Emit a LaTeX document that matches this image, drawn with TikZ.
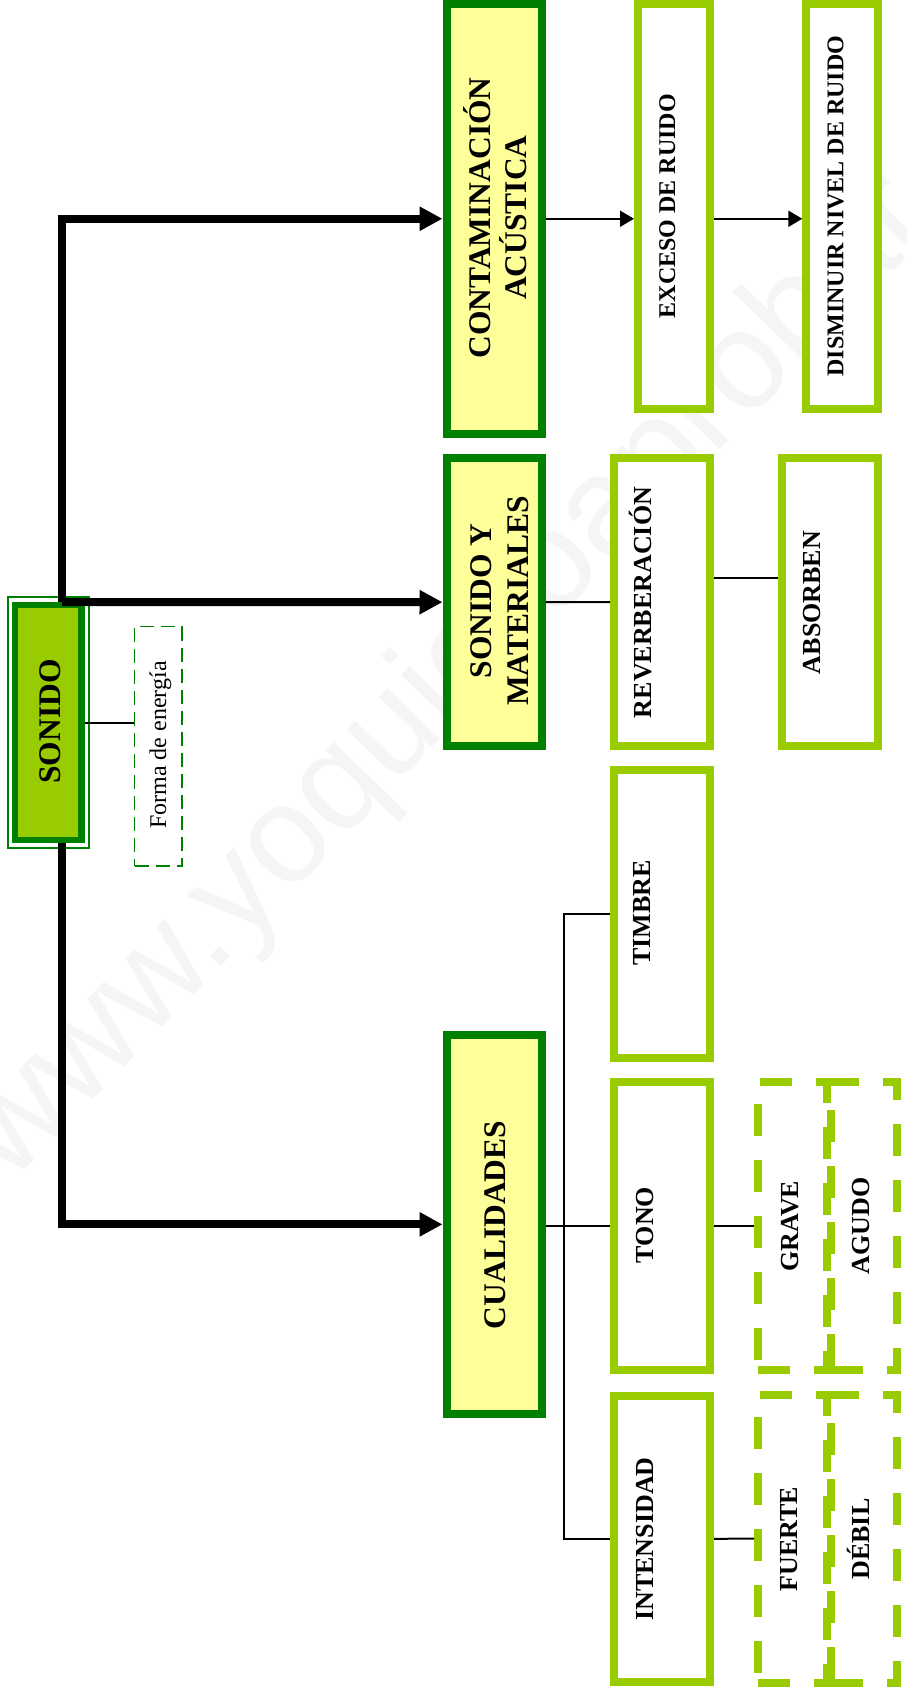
\documentclass[tikz,border=0pt]{standalone}
\usepackage{fontspec}
\setmainfont{Liberation Serif}
\newfontfamily\wmfont{Liberation Sans}
\usetikzlibrary{arrows.meta,calc}
\definecolor{dg}{HTML}{008000}
\definecolor{lg}{HTML}{99CC00}
\definecolor{yl}{HTML}{FFFF99}
\begin{document}
\begin{tikzpicture}[x=0.5pt,y=-0.5pt,
  mainbox/.style={draw=dg, line width=4pt, fill=yl, minimum width=47.5pt, inner sep=0pt},
  subbox/.style={draw=lg, line width=4pt, fill=white, inner sep=0pt},
  dbox/.style={draw=lg, line width=4pt, dash pattern=on 16pt off 12pt, inner sep=0pt, minimum height=144pt},
  big/.style={line width=4pt, line join=miter, -{Triangle[length=11.5pt,width=11.5pt]}},
  bigl/.style={line width=4pt, line join=miter},
  thinl/.style={line width=1pt},
  thinarr/.style={line width=1pt, -{Triangle[length=7pt,width=8pt]}},
  bigtxt/.style={rotate=90, anchor=base, font=\fontsize{15.75}{18}\selectfont\bfseries, inner sep=0pt},
  medtxt/.style={rotate=90, anchor=base, font=\fontsize{13}{15}\selectfont\bfseries, inner sep=0pt},
  smtxt/.style={rotate=90, anchor=base, font=\fontsize{12}{14}\selectfont\bfseries, inner sep=0pt},
]
\useasboundingbox (0,0) rectangle (906,1694);
\fill[white] (0,0) rectangle (906,1694);
% watermark
\node[rotate=46, anchor=base west, font=\wmfont\fontsize{69}{69}\selectfont, text=black!4, inner sep=0pt] (wm) at (10,1185) {www.yoquieroaprobar.es};

% main boxes
\node[mainbox, minimum height=214.75pt] (cont) at (494,218.75) {};
\node[mainbox, minimum height=143.85pt] (sym) at (494,602.15) {};
\node[mainbox, minimum height=189.65pt] (cual) at (494,1224.35) {};

% sub boxes
\node[subbox, minimum width=36pt, minimum height=202.5pt] (exceso) at (674,206.5) {};
\node[subbox, minimum width=36pt, minimum height=202.5pt] (dism) at (842.3,206.5) {};
\node[subbox, minimum width=48pt, minimum height=144pt] (reverb) at (662,602) {};
\node[subbox, minimum width=48pt, minimum height=144pt] (absorb) at (830,602) {};
\node[subbox, minimum width=48pt, minimum height=143.85pt] (timbre) at (662,913.85) {};
\node[subbox, minimum width=48pt, minimum height=144pt] (tono) at (662,1226) {};
\node[subbox, minimum width=48pt, minimum height=143.15pt] (intens) at (662,1538.85) {};

% dashed boxes
\node[dbox, minimum width=34.5pt] (grave) at (792.5,1226) {};
\node[dbox, minimum width=33pt] (agudo) at (864,1226) {};
\node[dbox, minimum width=34.5pt] (fuerte) at (792.5,1538.5) {};
\node[dbox, minimum width=33pt] (debil) at (864,1538.5) {};

% SONIDO
\node[draw=dg, line width=1pt, fill=white, minimum width=40.45pt, minimum height=125.3pt, inner sep=0pt] (sonout) at (48.25,722.5) {};
\node[draw=dg, line width=3.35pt, fill=lg, minimum width=33.35pt, minimum height=117.5pt, inner sep=0pt] (sonido) at (48.35,722.5) {};

% Forma de energia
\node[draw=dg, line width=0.85pt, dash pattern=on 7pt off 3.5pt, minimum width=23.75pt, minimum height=119.75pt, inner sep=0pt] (forma) at (158.25,746.25) {};

% texts
\node[bigtxt] (t-son) at (61,721.5) {SONIDO};
\node[bigtxt] (t-cont1) at (490,218) {CONTAMINACIÓN};
\node[bigtxt] (t-cont2) at (526.7,217.5) {ACÚSTICA};
\node[bigtxt] (t-sym1) at (491.7,601) {SONIDO Y};
\node[bigtxt] (t-sym2) at (528.3,601) {MATERIALES};
\node[bigtxt] (t-cual) at (505,1225) {CUALIDADES};
\node[smtxt] (t-exc) at (675,206) {EXCESO DE RUIDO};
\node[smtxt] (t-dis) at (843.3,206) {DISMINUIR NIVEL DE RUIDO};
\node[medtxt] (t-rev) at (651.7,602.5) {REVERBERACIÓN};
\node[medtxt] (t-abs) at (820,602.5) {ABSORBEN};
\node[medtxt] (t-tim) at (650,913) {TIMBRE};
\node[medtxt] (t-ton) at (653.3,1225) {TONO};
\node[medtxt] (t-int) at (653.3,1539) {INTENSIDAD};
\node[medtxt] (t-gra) at (798.3,1226) {GRAVE};
\node[medtxt] (t-agu) at (869.3,1226) {AGUDO};
\node[medtxt] (t-fue) at (797.3,1539) {FUERTE};
\node[medtxt] (t-deb) at (869.3,1539) {DÉBIL};
\node[rotate=90, anchor=base, font=\fontsize{12}{14}\selectfont, inner sep=0pt] (t-for) at (166,745) {Forma de energía};

% trunk
\coordinate (j1) at (62,602);
\draw[big] (j1) |- (cont.west);
\draw[big] (j1) -- (sym.west);
\draw[big] (sonido.south -| j1) |- (cual.west);

% thin connectors
\draw[thinl] (sonido.east) -- (sonido.east -| forma.west);
\draw[thinarr] (cont.east) -- (cont.east -| exceso.west);
\draw[thinarr] (cont.east -| exceso.east) -- (cont.east -| dism.west);
\draw[thinl] (sym.east) -- (reverb.west);
\coordinate (r1) at ($(reverb.east)+(0,-24.3)$);
\draw[thinl] (r1) -- (r1 -| absorb.west);
\draw[thinl] (cual.east |- tono.west) -- (tono.west);
\draw[thinl] (timbre.west) -- ++(-46,0) |- (intens.west);
\draw[thinl] (tono.east) -- (grave.west);
\draw[thinl] (intens.east) -- (fuerte.west);
\end{tikzpicture}
\end{document}
